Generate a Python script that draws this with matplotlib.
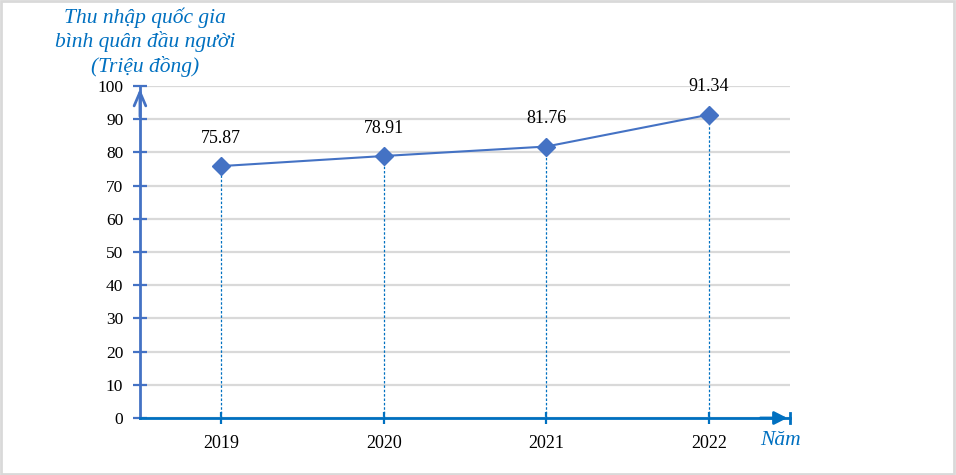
import matplotlib.pyplot as plt
from matplotlib.patches import Rectangle

years = ['2019', '2020', '2021', '2022']
income = [75.87, 78.91, 81.76, 91.34]
y_ticks = [0, 10, 20, 30, 40, 50, 60, 70, 80, 90, 100]

plt.rcParams['font.family'] = ['Liberation Serif', 'DejaVu Serif']

fig = plt.figure(figsize=(9.56, 4.75), dpi=100)
ax = fig.add_axes([0.1464, 0.12, 0.68, 0.699])

axis_blue = '#0070C0'
line_blue = '#4472C4'
x = list(range(len(years)))

ax.set_xlim(-0.5, 3.5)
ax.set_ylim(0, 100)
ax.set_yticks(y_ticks)
ax.set_xticks(x)
ax.set_xticklabels(years)
ax.grid(axis='y', color='#d9d9d9', linewidth=1.6)
ax.set_axisbelow(True)

for s in ['top', 'right']:
    ax.spines[s].set_visible(False)
ax.spines['left'].set_color(line_blue)
ax.spines['left'].set_linewidth(2)
ax.spines['bottom'].set_color(axis_blue)
ax.spines['bottom'].set_linewidth(2)

ax.tick_params(axis='y', direction='inout', length=10, width=1.6, color=line_blue,
               labelsize=12.5, pad=7)
ax.tick_params(axis='x', direction='inout', length=8, width=1.6, color=axis_blue,
               labelsize=13, pad=8)

# drop lines
ax.vlines(x, 0, income, colors=axis_blue, linestyles=(0, (2, 1.5)), linewidth=0.9, zorder=2)

ax.plot(x, income, color=line_blue, linewidth=1.5, marker='D', markersize=9,
        markerfacecolor=line_blue, markeredgecolor=line_blue, zorder=3)

for xi, v in zip(x, income):
    ax.annotate(f'{v:.2f}', (xi, v), xytext=(0, 14), textcoords='offset points',
                ha='center', va='bottom', fontsize=13)

# axis arrows
ax.annotate('', xy=(-0.5, 100), xytext=(-0.5, 90),
            arrowprops=dict(arrowstyle='->,head_length=0.7,head_width=0.3',
                            color=line_blue, lw=2, mutation_scale=14),
            annotation_clip=False)
ax.annotate('', xy=(3.5, 0), xytext=(3.3, 0),
            arrowprops=dict(arrowstyle='-|>,head_length=0.55,head_width=0.28',
                            color=axis_blue, lw=2, mutation_scale=14),
            annotation_clip=False)
ax.plot([3.5, 3.5], [-1.5, 1.5], color=axis_blue, lw=2, clip_on=False)

fig.text(0.152, 0.985, 'Thu nhập quốc gia\nbình quân đầu người\n(Triệu đồng)',
         ha='center', va='top', fontsize=15.5, style='italic', color=axis_blue,
         linespacing=1.22)
fig.text(0.816, 0.073, 'Năm', ha='center', va='center', fontsize=15.5, style='italic',
         color=axis_blue)

fig.patches.append(Rectangle((0.001, 0.002), 0.997, 0.995, transform=fig.transFigure,
                             fill=False, edgecolor='#d9d9d9', linewidth=2))

fig.savefig('out.png', dpi=100)
